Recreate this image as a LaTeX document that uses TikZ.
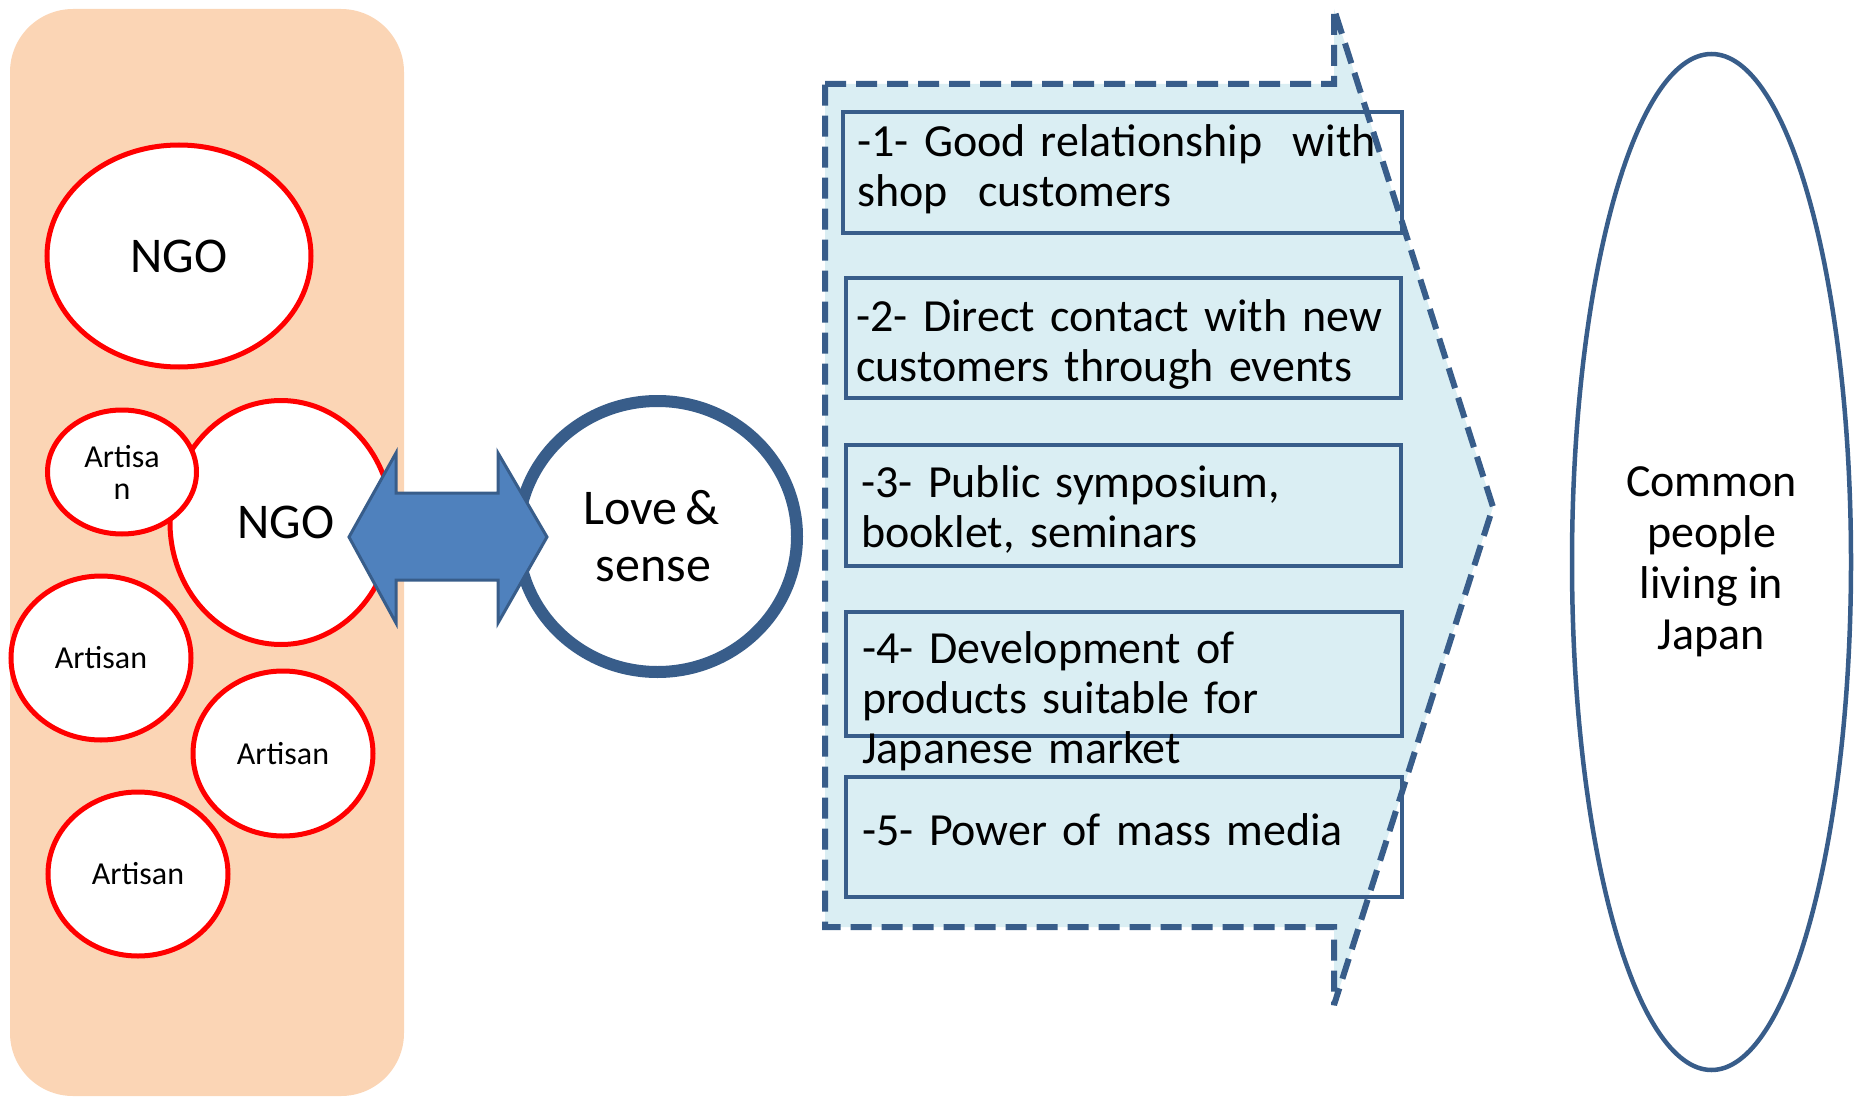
\documentclass[tikz,border=0pt]{standalone}
\usepackage{fontspec}
\setmainfont{Carlito}
\usetikzlibrary{shapes.geometric}
\definecolor{peach}{HTML}{FBD5B5}
\definecolor{navy}{HTML}{385D8A}
\definecolor{steel}{HTML}{4F81BD}
\definecolor{paleblue}{HTML}{DAEEF3}

\begin{document}
\begin{tikzpicture}[x=1pt,y=-1pt,
  redell/.style={ellipse, draw=red, line width=5pt, fill=white, inner sep=0pt, align=center},
  bigtxt/.style={font=\fontsize{50}{57}\selectfont},
  smalltxt/.style={font=\fontsize{32}{32}\selectfont},
  listbox/.style={rectangle, draw=navy, line width=4.5pt, inner sep=0pt},
  listtxt/.style={font=\fontsize{46}{50}\selectfont, text width=600pt, align=left,
                  inner sep=0pt, anchor=base west}]

\useasboundingbox (0,0) rectangle (1856,1097);

% left panel with the NGO / artisan group
\node[fill=peach, rounded corners=63pt, minimum width=394pt, minimum height=1087pt,
      inner sep=0pt] (panel) at (207,552.5) {};

\node[redell, bigtxt, minimum width=264pt, minimum height=222pt] (ngoA) at (179,256) {NGO};
\node[redell, bigtxt, minimum width=222pt, minimum height=244pt] (ngoB) at (281,522.5) {\hspace*{10pt}NGO};
\node[redell, smalltxt, minimum width=149pt, minimum height=124pt] (art1) at (122,472) {Artisa\\n};
\node[redell, smalltxt, minimum width=180pt, minimum height=164pt] (art2) at (101,658) {Artisan};
\node[redell, smalltxt, minimum width=180pt, minimum height=165pt] (art3) at (283,753.5) {Artisan};
\node[redell, smalltxt, minimum width=180pt, minimum height=164pt] (art4) at (138,874) {Artisan};

% central circle
\node[ellipse, draw=navy, line width=12pt, fill=white, inner sep=0pt, align=center, bigtxt,
      minimum width=279pt, minimum height=271pt] (love) at (657.5,536.5)
      {Love\,\&\hspace*{12pt}\\sense\hspace*{8pt}};

% two-headed block arrow between the group and the circle
\draw[fill=steel, draw=navy, line width=3pt, line join=miter]
  (349,537) -- (396,453) -- (396,493) -- (498,493) -- (498,453) -- (547,537)
  -- (498,623) -- (498,580) -- (396,580) -- (396,623) -- cycle;

% large chevron arrow holding the list
\fill[paleblue] (825,84) -- (1334,84) -- (1334,9) -- (1493,507) -- (1334,1005)
  -- (1334,927) -- (825,927) -- cycle;

\node[listbox, minimum width=559pt, minimum height=121pt] (b1) at (1122.5,172.5) {};
\node[listbox, minimum width=555pt, minimum height=120pt] (b2) at (1123.5,338) {};
\node[listbox, minimum width=555pt, minimum height=121pt] (b3) at (1123.5,505.5) {};
\node[listbox, minimum width=556pt, minimum height=124pt] (b4) at (1124,674) {};
\node[listbox, minimum width=556pt, minimum height=120pt] (b5) at (1124,837) {};

\draw[navy, line width=6pt, dash pattern=on 21pt off 10pt, line join=miter, miter limit=2]
  (825,84) -- (1334,84) -- (1334,9) -- (1493,507) -- (1334,1005)
  -- (1334,927) -- (825,927) -- cycle;

\node[listtxt] (t1) at (857,157) {-1- Good relationship\ \ with\\shop\ \ customers};
\node[listtxt] (t2) at (856,331) {-2- Direct contact with new\\customers through events};
\node[listtxt] (t3) at (861,497) {-3- Public symposium,\\booklet, seminars};
\node[listtxt] (t4) at (862,663) {-4- Development of\\products suitable for\\Japanese market};
\node[listtxt] (t5) at (862,845) {-5- Power of mass media};

% target audience
\node[ellipse, draw=navy, line width=4.5pt, fill=white, inner sep=0pt, align=center,
      font=\fontsize{46}{51}\selectfont,
      minimum width=279pt, minimum height=1016pt] (people) at (1711.5,562)
      {Common\\people\\living in\\Japan};

\end{tikzpicture}
\end{document}
